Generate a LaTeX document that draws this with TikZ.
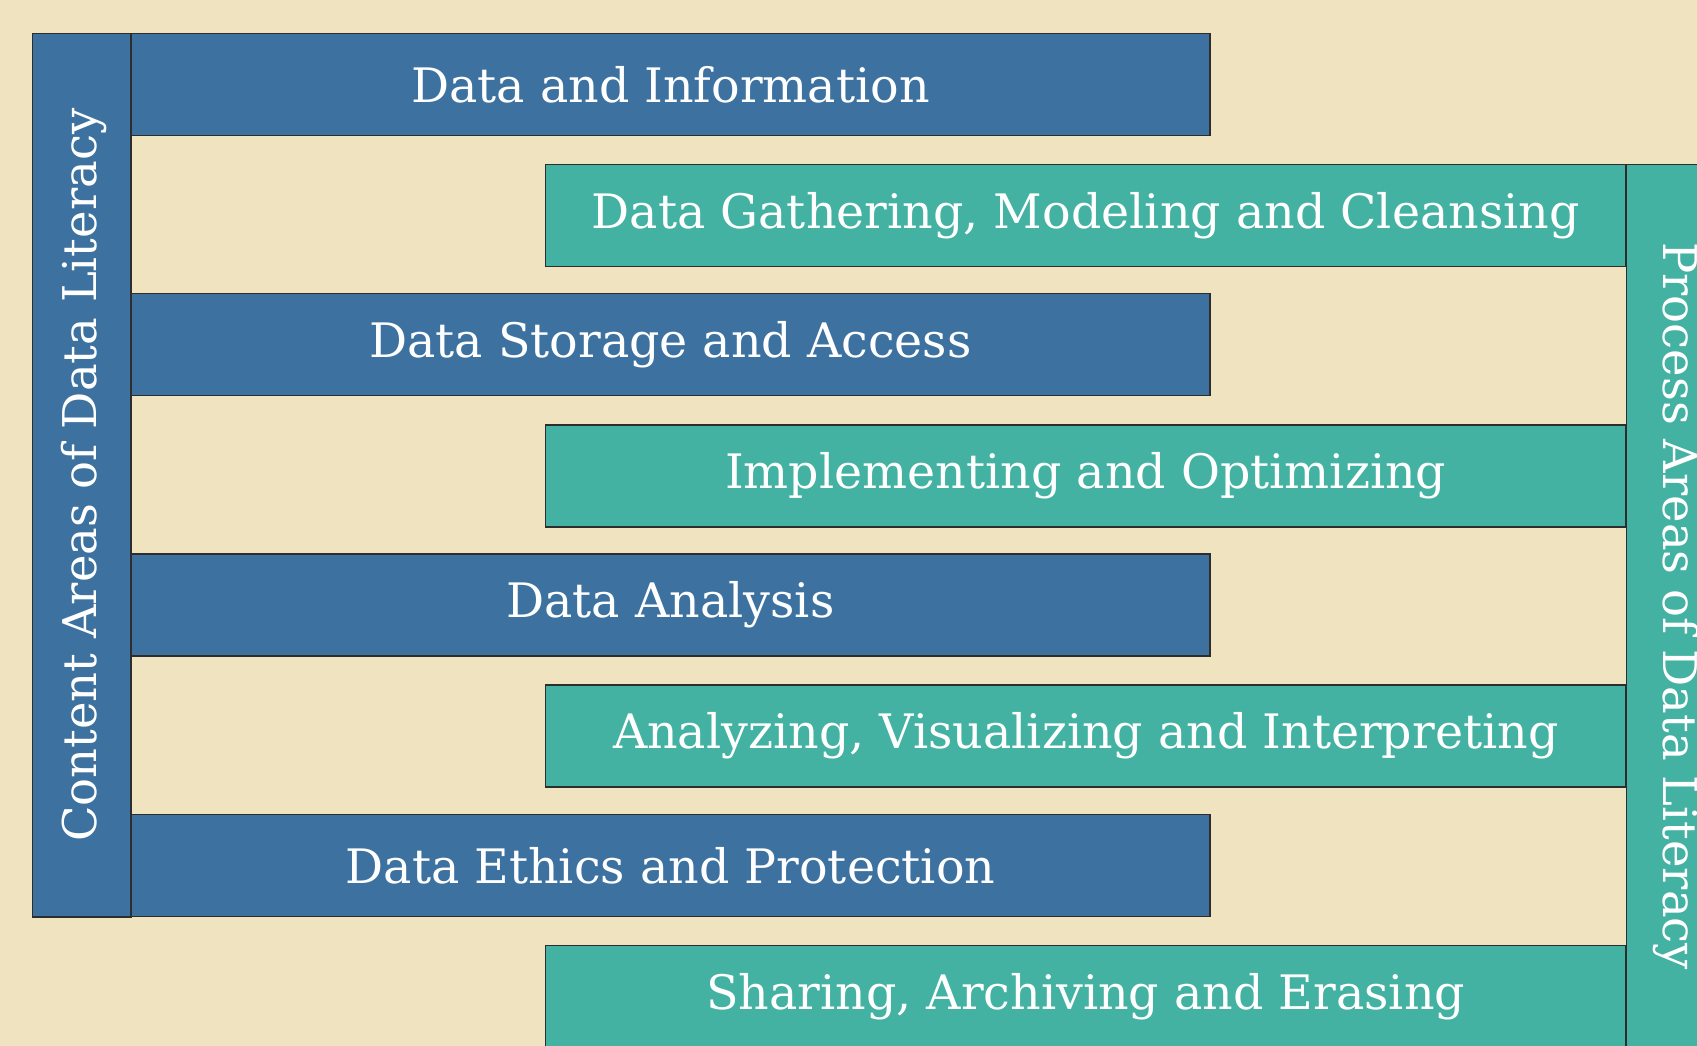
\documentclass[tikz,border=0pt]{standalone}
\usepackage{fontspec}
\setmainfont{DejaVu Serif}
\definecolor{bgc}{RGB}{240,227,192}
\definecolor{bluec}{RGB}{61,114,160}
\definecolor{tealc}{RGB}{67,178,162}
\definecolor{edgec}{RGB}{45,45,45}
\tikzset{
  box/.style={draw=edgec, line width=1.2pt, rectangle, inner sep=0pt, text=white,
    font=\fontsize{47.5}{56}\selectfont},
  bluebox/.style={box, fill=bluec, minimum width=1079pt, minimum height=102pt},
  tealbox/.style={box, fill=tealc, minimum width=1080.5pt, minimum height=102pt},
  sidebox/.style={box, minimum width=98.5pt, minimum height=883.5pt, font=\fontsize{46.5}{56}\selectfont},
}
\begin{document}
\begin{tikzpicture}[x=1pt,y=-1pt]
\useasboundingbox (0,0) rectangle (1697,1046);
\clip (0,0) rectangle (1697,1046);
\fill[bgc] (0,0) rectangle (1697,1046);
\node[sidebox, fill=bluec] (left) at (81.75,475.25) {\hspace*{4pt}\rotatebox{90}{Content Areas of Data Literacy}};
\node[bluebox] (b1) at (670.5,84.5) {Data and Information};
\node[bluebox] (b2) at (670.5,344.5) {Data Storage and Access};
\node[bluebox] (b3) at (670.5,605) {Data Analysis};
\node[bluebox] (b4) at (670.5,865.5) {Data Ethics and Protection};
\node[tealbox] (t1) at (1085.75,215.5) {Data Gathering, Modeling and Cleansing};
\node[tealbox] (t2) at (1085.75,476) {Implementing and Optimizing};
\node[tealbox] (t3) at (1085.75,736) {Analyzing, Visualizing and Interpreting};
\node[tealbox] (t4) at (1085.75,996.5) {Sharing, Archiving and Erasing};
\node[sidebox, fill=tealc] (right) at (1675.5,606.25) {\rotatebox{-90}{Process Areas of Data Literacy}};
\end{tikzpicture}
\end{document}
